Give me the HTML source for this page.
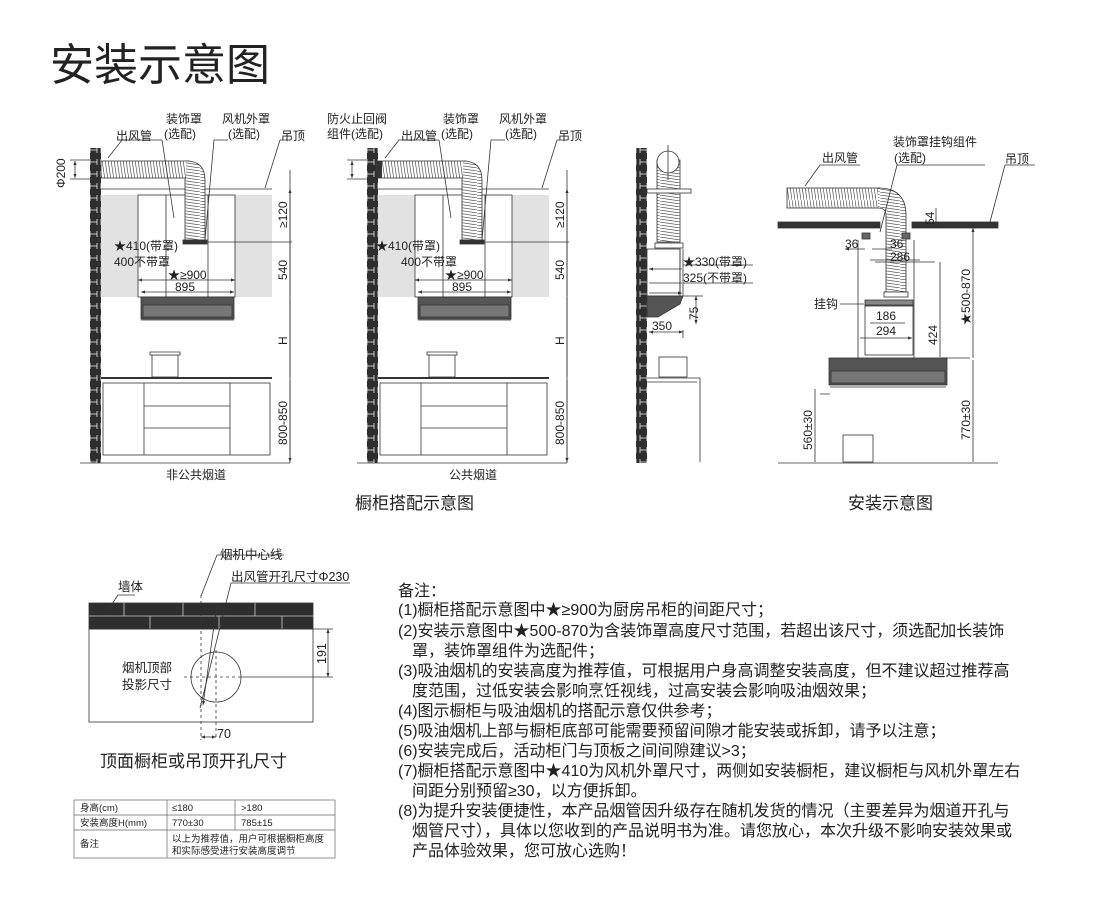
<!DOCTYPE html>
<html><head><meta charset="utf-8"><style>
body{margin:0;background:#fff;width:1100px;height:922px;overflow:hidden}
svg{display:block}
text{font-family:"Liberation Sans","Noto Sans CJK SC",sans-serif;fill:#222}
</style></head><body>
<svg width="1100" height="922" viewBox="0 0 1100 922" xmlns="http://www.w3.org/2000/svg">
<defs>
<pattern id="brick" width="11" height="12" patternUnits="userSpaceOnUse">
<rect width="11" height="12" fill="#2e2e2e"/><path d="M2 3v6M9 3v6M2 6h7" stroke="#eee" stroke-width="0.8"/>
</pattern>
<pattern id="coil" width="3" height="20" patternUnits="userSpaceOnUse"><rect width="3" height="20" fill="#fff"/><path d="M0 0l3 20" stroke="#555" stroke-width="0.7"/></pattern>
<pattern id="coilv" width="20" height="3" patternUnits="userSpaceOnUse"><rect width="20" height="3" fill="#fff"/><path d="M0 0l20 3" stroke="#555" stroke-width="0.7"/></pattern>
<marker id="a" markerWidth="6" markerHeight="6" refX="5" refY="3" orient="auto-start-reverse"><path d="M0 1L5 3L0 5z" fill="#333"/></marker>
</defs>
<text x="50" y="80" font-size="44" fill="#333">安装示意图</text>

<g id="d1" stroke="#333" stroke-width="0.8" fill="none">
<rect x="101" y="195" width="171" height="102" fill="#e2e2e2" stroke="none"/>
<rect x="138" y="195" width="97" height="102" fill="#fff"/>
<line x1="166" y1="195" x2="166" y2="297"/><line x1="208" y1="195" x2="208" y2="297"/>
<line x1="101" y1="189" x2="272" y2="189"/>
<rect x="101" y="161" width="88" height="17" fill="url(#coil)"/>
<path d="M186 161 Q205 161 205 180 L205 240 L185 240 L185 180 Q185 178 186 178" fill="url(#coilv)"/>
<rect x="183" y="240" width="24" height="4" fill="#333"/>
<rect x="141" y="297" width="93" height="22" fill="#555"/>
<rect x="143" y="305" width="89" height="12" fill="#777"/>
<line x1="141" y1="320" x2="234" y2="320"/>
<line x1="101" y1="378" x2="272" y2="378" stroke-width="2"/>
<rect x="103" y="383" width="167" height="72"/>
<line x1="144" y1="383" x2="144" y2="455"/><line x1="230" y1="383" x2="230" y2="455"/>
<line x1="144" y1="406" x2="230" y2="406"/><line x1="144" y1="428" x2="230" y2="428"/>
<rect x="152" y="355" width="26" height="22" fill="#fff"/>
<path d="M150 355h30v-3h-30z" fill="#fff"/>
<line x1="80" y1="463" x2="290" y2="463"/>
<line x1="290" y1="170" x2="290" y2="463"/>
<path d="M290 189v52M290 241v55M290 297v80M290 380v82" marker-start="url(#a)" marker-end="url(#a)"/>
<line x1="138" y1="280" x2="235" y2="280" marker-start="url(#a)" marker-end="url(#a)"/>
<line x1="141" y1="292" x2="234" y2="292" marker-start="url(#a)" marker-end="url(#a)"/>
<line x1="75" y1="161" x2="75" y2="178" marker-start="url(#a)" marker-end="url(#a)"/>
<line x1="70" y1="160" x2="101" y2="160"/><line x1="70" y1="179" x2="101" y2="179"/>
<path d="M108 158L122 140H162M174 218L162 140M205 240L214 140H228M265 188L280 140H290"/>
<line x1="208" y1="242" x2="292" y2="242"/>
</g>
<rect x="90" y="148" width="11" height="315" fill="url(#brick)"/>
<g font-size="12">
<text x="116" y="140">出风管</text><text x="166" y="123">装饰罩</text><text x="164" y="138">(选配)</text>
<text x="222" y="123">风机外罩</text><text x="228" y="138">(选配)</text><text x="281" y="140">吊顶</text>
<text x="114" y="250">★410(带罩)</text><text x="114" y="266">400不带罩</text>
<text x="168" y="279">★≥900</text><text x="175" y="291">895</text>
<text x="166" y="479">非公共烟道</text>
<text transform="translate(65,188) rotate(-90)">Φ200</text>
<text transform="translate(287,228) rotate(-90)">≥120</text>
<text transform="translate(287,280) rotate(-90)">540</text>
<text transform="translate(287,345) rotate(-90)">H</text>
<text transform="translate(287,445) rotate(-90)">800-850</text>
</g>
<g transform="translate(277,0)">
<use href="#d1"/>
<rect x="90" y="148" width="11" height="315" fill="url(#brick)"/>
<rect x="99" y="161" width="6" height="17" fill="#333"/>
<g font-size="12">
<text x="124" y="140">出风管</text><text x="166" y="123">装饰罩</text><text x="164" y="138">(选配)</text>
<text x="222" y="123">风机外罩</text><text x="228" y="138">(选配)</text><text x="281" y="140">吊顶</text>
<text x="50" y="123">防火止回阀</text><text x="50" y="138">组件(选配)</text>
<text x="99" y="250">★410(带罩)</text><text x="124" y="266">400不带罩</text>
<text x="168" y="279">★≥900</text><text x="175" y="291">895</text>
<text x="172" y="479">公共烟道</text>
<text transform="translate(287,228) rotate(-90)">≥120</text>
<text transform="translate(287,280) rotate(-90)">540</text>
<text transform="translate(287,345) rotate(-90)">H</text>
<text transform="translate(287,445) rotate(-90)">800-850</text>
</g></g>
<text x="355" y="509" font-size="17">橱柜搭配示意图</text>

<g stroke="#333" stroke-width="0.8" fill="none">
<rect x="636" y="148" width="11" height="315" fill="url(#brick)" stroke="none"/>
<rect x="657" y="160" width="23" height="82" fill="url(#coilv)"/>
<circle cx="668" cy="162" r="11" fill="#fff"/>
<line x1="668" y1="145" x2="668" y2="180"/>
<rect x="647" y="189" width="44" height="4" fill="#fff"/>
<rect x="655" y="243" width="28" height="5" fill="#fff"/>
<rect x="647" y="249" width="33" height="47"/>
<line x1="680" y1="249" x2="680" y2="296"/><line x1="683" y1="249" x2="683" y2="296"/>
<path d="M647 296h36l-3 8-22 13h-11z" fill="#555"/>
<path d="M649 269h33M649 283h33M649 293h33" marker-start="url(#a)" marker-end="url(#a)"/>
<line x1="649" y1="332" x2="683" y2="332" marker-start="url(#a)" marker-end="url(#a)"/>
<line x1="696" y1="296" x2="696" y2="324" marker-start="url(#a)" marker-end="url(#a)"/>
<path d="M683 265h70M683 283h70M683 296h20M683 330v8"/>
<rect x="659" y="357" width="28" height="20" fill="#fff"/>
<path d="M647 378h53v84M647 382h50"/>
</g>
<g font-size="12">
<text x="683" y="266">★330(带罩)</text><text x="683" y="282">325(不带罩)</text>
<text x="652" y="330">350</text><text transform="translate(698,320) rotate(-90)">75</text>
</g>

<g stroke="#333" stroke-width="0.8" fill="none">
<rect x="778" y="222" width="102" height="6" fill="#333"/>
<rect x="912" y="222" width="86" height="6" fill="#333"/>
<rect x="787" y="188" width="93" height="20" fill="url(#coil)"/>
<path d="M878 188 Q906 188 906 215 L906 292 L886 292 L886 215 Q886 208 878 208" fill="url(#coilv)"/>
<rect x="884" y="292" width="24" height="5" fill="#fff"/>
<rect x="865" y="300" width="48" height="6" fill="#888"/>
<rect x="865" y="305" width="48" height="50"/>
<rect x="862" y="233" width="8" height="6" fill="#666"/><rect x="902" y="233" width="8" height="6" fill="#666"/>
<line x1="858" y1="240" x2="858" y2="358"/><line x1="914" y1="240" x2="914" y2="358"/>
<rect x="829" y="358" width="118" height="27" fill="#555"/>
<rect x="831" y="371" width="114" height="12" fill="#777"/>
<line x1="830" y1="387" x2="946" y2="387"/>
<path d="M820 394h10M940 358h30"/>
<line x1="778" y1="463" x2="998" y2="463"/>
<rect x="843" y="435" width="30" height="27" fill="#fff"/>
<path d="M973 228v130M973 360v102M815 389v73M940 262v95M936 208v20" marker-start="url(#a)" marker-end="url(#a)"/>
<path d="M845 249h20M872 249h20M870 260h50M875 262h60M870 323h35M860 338h52" marker-start="url(#a)" marker-end="url(#a)"/>
<path d="M805 186L820 165H860M880 232L897 165H985M990 222L1005 165H1035M840 304h24"/>
</g>
<g font-size="12">
<text x="822" y="162">出风管</text><text x="893" y="146">装饰罩挂钩组件</text><text x="894" y="162">(选配)</text>
<text x="1005" y="163">吊顶</text><text x="814" y="308">挂钩</text>
<text x="845" y="248">36</text><text x="890" y="248">36</text><text x="890" y="261">286</text>
<text x="876" y="320">186</text><text x="876" y="335">294</text>
<text transform="translate(934,225) rotate(-90)">54</text>
<text transform="translate(937,345) rotate(-90)">424</text>
<text transform="translate(970,325) rotate(-90)">★500-870</text>
<text transform="translate(970,440) rotate(-90)">770±30</text>
<text transform="translate(812,450) rotate(-90)">560±30</text>
</g>
<text x="848" y="509" font-size="17">安装示意图</text>

<g stroke="#333" stroke-width="0.8" fill="none">
<rect x="89" y="603" width="224" height="26" fill="#2e2e2e"/>
<path d="M89 616h224M124 603v13M183 603v13M255 603v13M150 616v13M219 616v13M282 616v13" stroke="#ccc"/>
<rect x="89" y="629" width="224" height="93"/>
<circle cx="216" cy="677" r="25"/>
<path d="M184 677h60" stroke-dasharray="3,3"/>
<path d="M241 677h92"/>
<line x1="216" y1="650" x2="216" y2="740" stroke-dasharray="3,3"/>
<line x1="201" y1="595" x2="201" y2="740" stroke-dasharray="3,3"/>
<path d="M201 596L217 555H284M200 708L231 583H350M108 610L118 595H135" />
<line x1="217" y1="604" x2="203" y2="705" marker-end="url(#a)"/>
<path d="M313 629h20"/><line x1="328" y1="629" x2="328" y2="677" marker-start="url(#a)" marker-end="url(#a)"/>
<line x1="201" y1="737" x2="216" y2="737" marker-start="url(#a)" marker-end="url(#a)"/>
</g>
<g font-size="12.5">
<text x="220" y="559">烟机中心线</text><text x="231" y="581">出风管开孔尺寸Φ230</text>
<text x="118" y="591">墙体</text>
<text x="122" y="672">烟机顶部</text><text x="122" y="689">投影尺寸</text>
<text x="217" y="738">70</text>
<text transform="translate(326,664) rotate(-90)">191</text>
</g>
<text x="100" y="767" font-size="17">顶面橱柜或吊顶开孔尺寸</text>

<g stroke="#666" stroke-width="0.7" fill="none">
<rect x="74" y="800" width="261" height="58"/>
<path d="M74 815h261M74 830h261M167 800v58M235 800v30"/>
</g>
<g font-size="9.5">
<text x="80" y="811">身高(cm)</text><text x="172" y="811">≤180</text><text x="241" y="811">&gt;180</text>
<text x="80" y="826">安装高度H(mm)</text><text x="172" y="826">770±30</text><text x="241" y="826">785±15</text>
<text x="80" y="847">备注</text><text x="172" y="842">以上为推荐值，用户可根据橱柜高度</text><text x="172" y="854">和实际感受进行安装高度调节</text>
</g>

<g font-size="16">
<text x="398" y="596">备注：</text>
<text x="398" y="615">(1)橱柜搭配示意图中★≥900为厨房吊柜的间距尺寸；</text>
<text x="398" y="636">(2)安装示意图中★500-870为含装饰罩高度尺寸范围，若超出该尺寸，须选配加长装饰</text>
<text x="412" y="656">罩，装饰罩组件为选配件；</text>
<text x="398" y="676">(3)吸油烟机的安装高度为推荐值，可根据用户身高调整安装高度，但不建议超过推荐高</text>
<text x="412" y="696">度范围，过低安装会影响烹饪视线，过高安装会影响吸油烟效果；</text>
<text x="398" y="716">(4)图示橱柜与吸油烟机的搭配示意仅供参考；</text>
<text x="398" y="736">(5)吸油烟机上部与橱柜底部可能需要预留间隙才能安装或拆卸，请予以注意；</text>
<text x="398" y="756">(6)安装完成后，活动柜门与顶板之间间隙建议&gt;3；</text>
<text x="398" y="776">(7)橱柜搭配示意图中★410为风机外罩尺寸，两侧如安装橱柜，建议橱柜与风机外罩左右</text>
<text x="412" y="796">间距分别预留≥30，以方便拆卸。</text>
<text x="398" y="816">(8)为提升安装便捷性，本产品烟管因升级存在随机发货的情况（主要差异为烟道开孔与</text>
<text x="412" y="836">烟管尺寸），具体以您收到的产品说明书为准。请您放心，本次升级不影响安装效果或</text>
<text x="412" y="856">产品体验效果，您可放心选购！</text>
</g>
</svg>
</body></html>
